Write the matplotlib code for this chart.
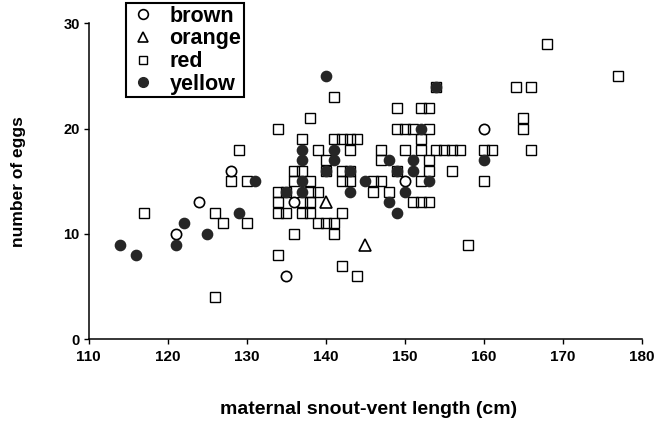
import matplotlib
matplotlib.use('Agg')
import matplotlib.pyplot as plt
from matplotlib.lines import Line2D

plt.rcParams['font.family'] = ['Liberation Sans', 'DejaVu Sans']
plt.rcParams['font.weight'] = 'bold'

# ---- data ----
brown_x = [121, 124, 128, 135, 136, 150, 160]
brown_y = [10, 13, 16, 6, 13, 15, 20]

orange_x = [140, 145]
orange_y = [13, 9]

red_x = [117, 126, 127, 126, 130, 128, 130, 129,
         134, 134, 134, 134, 134,
         135, 135,
         136, 136, 136,
         137, 137, 137, 137,
         138, 138, 138, 138, 138,
         139, 139, 139,
         140, 140, 140,
         141, 141, 141, 141,
         142, 142, 142, 142, 142,
         143, 143, 143, 143,
         144, 144,
         146, 146,
         147, 147, 147,
         148,
         149, 149, 149,
         150, 150,
         151, 151,
         152, 152, 152, 152, 152,
         153, 153, 153, 153, 153,
         154, 154,
         155,
         156, 156,
         157,
         158,
         160, 160,
         161,
         164, 165, 165, 166, 166,
         168, 177]
red_y = [12, 12, 11, 4, 11, 15, 15, 18,
         20, 14, 13, 12, 8,
         12, 14,
         16, 15, 10,
         19, 16, 13, 12,
         21, 15, 14, 13, 12,
         18, 14, 11,
         17, 16, 11,
         23, 19, 11, 10,
         19, 16, 15, 12, 7,
         19, 18, 16, 15,
         19, 6,
         15, 14,
         18, 17, 15,
         14,
         22, 20, 16,
         20, 18,
         20, 13,
         22, 19, 18, 15, 13,
         22, 20, 17, 16, 13,
         24, 18,
         18,
         18, 16,
         18,
         9,
         18, 15,
         18,
         24, 21, 20, 24, 18,
         28, 25]

yellow_x = [114, 116, 121, 122, 125, 129, 131, 135, 137, 137, 137, 137,
            140, 140, 141, 141, 143, 143, 145, 148, 148, 149, 149, 150,
            151, 151, 152, 153, 154, 160]
yellow_y = [9, 8, 9, 11, 10, 12, 15, 14, 18, 17, 15, 14,
            25, 16, 18, 17, 16, 14, 15, 17, 13, 16, 12, 14,
            17, 16, 20, 15, 24, 17]

categories = ['brown', 'orange', 'red', 'yellow']
x_ticks = [110, 120, 130, 140, 150, 160, 170, 180]
y_ticks = [0, 10, 20, 30]

# ---- figure ----
fig = plt.figure(figsize=(6.71, 4.26), dpi=100)
ax = fig.add_axes([0.1322, 0.2035, 0.8246, 0.7418])

ms = 7.0
mew = 1.0
dark = '#262626'

ax.plot(red_x, red_y, ls='none', marker='s', ms=ms, mfc='none', mec='black', mew=mew, zorder=3)
ax.plot(brown_x, brown_y, ls='none', marker='o', ms=ms + 0.4, mfc='white', mec='black', mew=mew + 0.2, zorder=4)
ax.plot(orange_x, orange_y, ls='none', marker='^', ms=ms + 1.2, mfc='white', mec='black', mew=mew + 0.2, zorder=4)
ax.plot(yellow_x, yellow_y, ls='none', marker='o', ms=ms + 0.4, mfc=dark, mec=dark, mew=mew, zorder=5)

ax.set_xlim(110, 180)
ax.set_ylim(0, 30)
ax.set_xticks(x_ticks)
ax.set_yticks(y_ticks)
ax.set_xticklabels([str(v) for v in x_ticks], fontsize=11, fontweight='bold')
ax.set_yticklabels([str(v) for v in y_ticks], fontsize=10.5, fontweight='bold')
ax.tick_params(axis='both', direction='out', length=3.5, width=1.0, colors='black')
ax.tick_params(axis='x', pad=4)
ax.tick_params(axis='y', pad=3)

for s in ['top', 'right']:
    ax.spines[s].set_visible(False)
for s in ['left', 'bottom']:
    ax.spines[s].set_linewidth(1.1)

handles = [
    Line2D([], [], ls='none', marker='o', ms=ms, mfc='white', mec='black', mew=mew + 0.2),
    Line2D([], [], ls='none', marker='^', ms=ms + 0.6, mfc='white', mec='black', mew=mew + 0.2),
    Line2D([], [], ls='none', marker='s', ms=ms - 0.6, mfc='white', mec='black', mew=mew),
    Line2D([], [], ls='none', marker='o', ms=ms, mfc=dark, mec=dark, mew=mew),
]
leg = ax.legend(handles, categories, loc='upper left', bbox_to_anchor=(0.0674, 1.064),
                frameon=True, fancybox=False, edgecolor='black', framealpha=1,
                prop={'size': 15.5, 'weight': 'bold'}, handlelength=1.3,
                handletextpad=0.6, labelspacing=0.08, borderpad=0.12,
                borderaxespad=0)
leg.get_frame().set_linewidth(1.5)
leg.set_zorder(10)

fig.text(369 / 671, 1 - 410 / 426, 'maternal snout-vent length (cm)',
         ha='center', va='center', fontsize=14, fontweight='bold')
fig.text(19 / 671, 1 - 182 / 426, 'number of eggs', rotation=90,
         ha='center', va='center', fontsize=12.5, fontweight='bold')

fig.savefig('out.png', dpi=100)
